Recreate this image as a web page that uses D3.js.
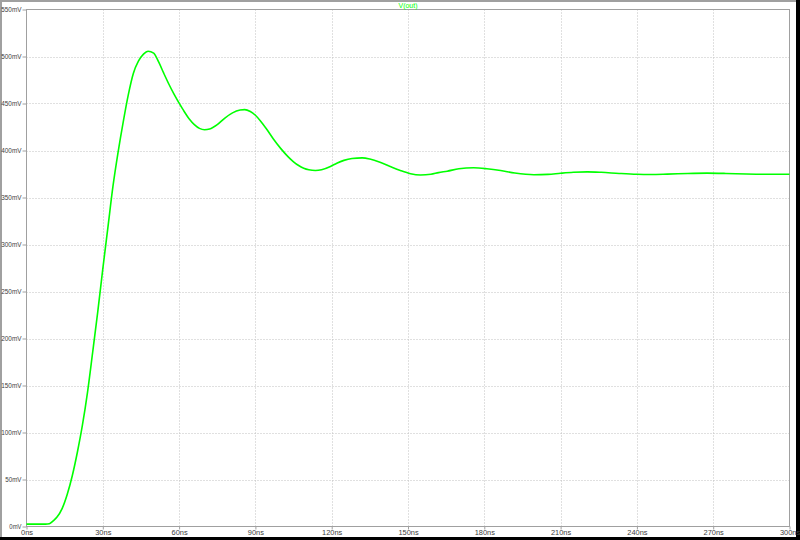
<!DOCTYPE html>
<html><head><meta charset="utf-8">
<script src="https://cdn.jsdelivr.net/npm/d3@7"></script>
<style>html,body{margin:0;padding:0;background:#fff;overflow:hidden}</style>
</head><body>
<svg id="c" width="800" height="540"></svg>
<script>
const title = "V(out)";
const timeNs = [0,7.5,9,10.5,12,14,16,18,20,22,24,26,28,30,32,34,36,38,40,42,44,46,47.8,50,52,54,56,58,60,62,64,66,68,70,72,75,78,81,84,85.8,88,90,92,94.6,97,100,103,105,107,109,111,113.6,116,119.5,122,124.8,128,132,135,139,143,147,151,154.9,159,162,165.4,170,175.8,181,186.4,192,199.5,205,210,215,220.5,226,233,240,245.4,252,260,267.6,275,283,291,300];
const voutMv = [2.5,2.5,3,6,10,19,34,54,79,108,143,185,228,274,318,362,398,430,459,482,495,502.5,505.6,503.5,494,482,470.5,460,450.5,441.5,433.5,427.5,423.5,422,422.8,427.5,434.5,440,443,443.5,441.5,437.5,431.5,422,412.5,402,393,388,384,381.2,379.5,378.7,379.5,383,386.5,389.5,391.5,392.2,391,387.6,383,378.7,375.3,374,374.7,376.5,378,380.5,381.6,380.6,378.7,376,374.2,374.6,375.8,376.8,377.3,376.8,375.6,374.7,374.5,374.9,375.6,375.9,375.6,375,374.7,374.8];
const xTicks = [0,30,60,90,120,150,180,210,240,270,300];
const xTickLabels = ["0ns","30ns","60ns","90ns","120ns","150ns","180ns","210ns","240ns","270ns","300ns"];
const yTicks = [0,50,100,150,200,250,300,350,400,450,500,550];
const yTickLabels = ["0mV","50mV","100mV","150mV","200mV","250mV","300mV","350mV","400mV","450mV","500mV","550mV"];

const svg = d3.select("#c");
const L=26.5, R=789.5, T=9.5, B=526.5;
const x = d3.scaleLinear().domain([0,300]).range([L,R]);
const y = d3.scaleLinear().domain([0,550]).range([B,T]);
const font = "'Liberation Sans', Arial, sans-serif";

// outer borders
svg.append("rect").attr("x",0).attr("y",0).attr("width",800).attr("height",2).attr("fill","#a0a0a0");
svg.append("rect").attr("x",0).attr("y",0).attr("width",2).attr("height",540).attr("fill","#a0a0a0");
svg.append("rect").attr("x",796).attr("y",0).attr("width",4).attr("height",540).attr("fill","#000");
svg.append("rect").attr("x",0).attr("y",537).attr("width",800).attr("height",3).attr("fill","#000");

// grid
const g = svg.append("g");
g.selectAll(".vg").data(xTicks.slice(1,-1)).enter().append("line")
  .attr("x1",d=>Math.round(x(d))+0.5).attr("x2",d=>Math.round(x(d))+0.5).attr("y1",T).attr("y2",B)
  .attr("stroke","#c0c0c0").attr("stroke-dasharray","1,2");
g.selectAll(".hg").data(yTicks.slice(1,-1)).enter().append("line")
  .attr("y1",d=>Math.round(y(d))+0.5).attr("y2",d=>Math.round(y(d))+0.5).attr("x1",L).attr("x2",R)
  .attr("stroke","#c0c0c0").attr("stroke-dasharray","1,2");

// frame
svg.append("rect").attr("x",L).attr("y",T).attr("width",R-L).attr("height",B-T)
  .attr("fill","none").attr("stroke","#a0a0a0").attr("stroke-width",1);

// axes
const xAxis = d3.axisBottom(x).tickValues(xTicks).tickSize(3).tickPadding(1)
  .tickFormat((d,i)=>xTickLabels[i]);
const xa = svg.append("g").attr("transform",`translate(0,${B})`).call(xAxis);
const yAxis = d3.axisLeft(y).tickValues(yTicks).tickSize(4).tickPadding(1)
  .tickFormat((d,i)=>yTickLabels[i]);
const ya = svg.append("g").attr("transform",`translate(${L},0)`).call(yAxis);
[xa,ya].forEach(a=>{
  a.select(".domain").remove();
  a.selectAll(".tick line").attr("stroke","#a0a0a0");
  a.selectAll(".tick text").attr("fill","#404040").attr("font-family",font).attr("font-size","7px")
    .attr("textLength",function(){ return this.textContent.length*4.05; })
    .attr("lengthAdjust","spacingAndGlyphs");
});

// curve
const data = timeNs.map((t,i)=>({t, v: voutMv[i]}));
const line = d3.line().x(d=>x(d.t)).y(d=>y(d.v)).curve(d3.curveMonotoneX);
svg.append("path").datum(data).attr("d",line).attr("fill","none")
  .attr("stroke","#00ff00").attr("stroke-width",1.6);

// title
svg.append("text").attr("x",(L+R)/2).attr("y",7.5).attr("text-anchor","middle")
  .attr("fill","#00ff00").attr("font-family",font).attr("font-size","7px").text(title);
</script>
</body></html>
